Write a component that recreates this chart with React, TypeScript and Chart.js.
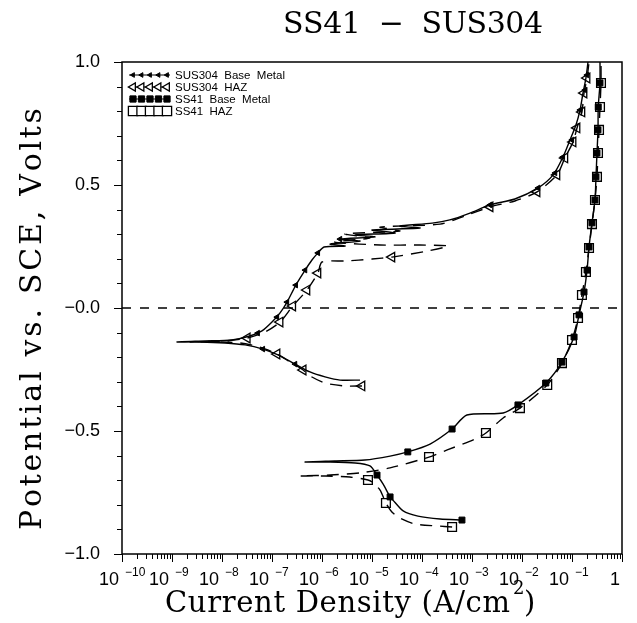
import React, { useEffect, useRef } from "react";
import { Chart, registerables } from "chart.js";

Chart.register(...registerables);

// ---- axis ranges / ticks ----
const X_MIN = 1e-10;
const X_MAX = 1;
const Y_MIN = -1;
const Y_MAX = 1;
const xDecadeExponents = [-10, -9, -8, -7, -6, -5, -4, -3, -2, -1, 0];
const xMinorMultipliers = [2, 3, 4, 5, 6, 7, 8, 9];
const yMajorTicks = [1.0, 0.5, 0, -0.5, -1.0];
const yMajorLabels = ["1.0", "0.5", "\u22120.0", "\u22120.5", "\u22121.0"];
const yMinorTicks = [0.9, 0.8, 0.7, 0.6, 0.4, 0.3, 0.2, 0.1, -0.1, -0.2, -0.3, -0.4, -0.6, -0.7, -0.8, -0.9];

// ---- texts ----
const titleText = "SS41  \u2212  SUS304";
const xTitleMain = "Current Density (A/cm";
const xTitleSup = "2";
const xTitleEnd = ")";
const yTitleText = "Potential vs. SCE, Volts";
const seriesNames = ["SUS304  Base  Metal", "SUS304  HAZ", "SS41  Base  Metal", "SS41  HAZ"];

// ---- reference line at 0 V ----
const zeroLine: [number, number][] = [[1e-10, 0], [1, 0]];

// ---- SUS304 Base Metal (current density A/cm2, potential V) ----
const sus304BaseCurve: [number, number][] = [
  [5.75e-6, -0.293], [2.3e-6, -0.293], [1.15e-6, -0.28], [5.75e-7, -0.26], [2.9e-7, -0.228],
  [1.32e-7, -0.191], [6.6e-8, -0.167], [2.9e-8, -0.15], [1.15e-8, -0.142], [3.6e-9, -0.138],
  [1.26e-9, -0.138], [4.6e-9, -0.134], [1.58e-8, -0.13], [3.6e-8, -0.114], [6.3e-8, -0.093],
  [1.0e-7, -0.057], [1.45e-7, -0.02], [2.0e-7, 0.024], [3.0e-7, 0.093], [4.6e-7, 0.154],
  [6.3e-7, 0.195], [8.3e-7, 0.224], [1.1e-6, 0.248],
  [2.9e-6, 0.252], [1.45e-6, 0.26], [5.75e-6, 0.272], [2.3e-6, 0.28], [1.15e-5, 0.289],
  [4.6e-6, 0.297], [2.9e-5, 0.305], [1.0e-5, 0.317], [9.1e-5, 0.325], [3.6e-5, 0.333],
  [1.6e-4, 0.345], [3.6e-4, 0.358], [9.1e-4, 0.386], [2.3e-3, 0.419], [7.2e-3, 0.443],
  [2.1e-2, 0.488], [4.2e-2, 0.541], [6.6e-2, 0.614], [9.1e-2, 0.683], [0.12, 0.744],
  [0.145, 0.805], [0.166, 0.874], [0.19, 0.935], [0.209, 1.0],
];
const sus304BaseMarks: [number, number][] = [
  [6.6e-8, -0.167], [2.9e-7, -0.228], [5.2e-8, -0.102], [1.26e-7, -0.037], [2.0e-7, 0.024],
  [3.0e-7, 0.093], [4.6e-7, 0.154], [8.3e-7, 0.224], [2.3e-6, 0.28], [2.3e-3, 0.419],
  [2.1e-2, 0.488], [4.6e-2, 0.549], [6.6e-2, 0.614], [0.1, 0.683], [0.145, 0.805],
  [0.182, 0.886], [0.2, 0.947],
];

// ---- SUS304 HAZ ----
const sus304HazCurve: [number, number][] = [
  [6.3e-6, -0.317], [2.9e-6, -0.317], [1.15e-6, -0.305], [5.75e-7, -0.276], [4.2e-7, -0.252],
  [2.3e-7, -0.22], [1.26e-7, -0.187], [5.75e-8, -0.159], [2.3e-8, -0.142], [7.2e-9, -0.138],
  [2.3e-9, -0.138], [1.15e-8, -0.134], [3.2e-8, -0.122], [7.2e-8, -0.098], [1.45e-7, -0.057],
  [2.6e-7, 0.008], [5.0e-7, 0.073], [8.3e-7, 0.142], [1.0e-6, 0.187], [2.9e-6, 0.191],
  [1.0e-5, 0.199], [2.5e-5, 0.207], [1.3e-4, 0.232], [3.3e-4, 0.252], [9.1e-5, 0.256],
  [1.45e-5, 0.256], [1.8e-6, 0.268], [9.1e-6, 0.285], [2.9e-6, 0.301], [3.6e-5, 0.313],
  [1.45e-5, 0.329], [2.3e-4, 0.341], [7.2e-4, 0.374], [2.3e-3, 0.411], [7.2e-3, 0.435],
  [2.0e-2, 0.472], [5.0e-2, 0.541], [7.2e-2, 0.61], [0.105, 0.675], [0.126, 0.732],
  [0.158, 0.797], [0.174, 0.874], [0.2, 0.935], [0.219, 1.0],
];
const sus304HazMarks: [number, number][] = [
  [6.3e-6, -0.317], [4.2e-7, -0.252], [1.26e-7, -0.187], [3.2e-8, -0.122], [1.45e-7, -0.057],
  [2.6e-7, 0.008], [5.0e-7, 0.073], [8.3e-7, 0.142], [2.5e-5, 0.207], [2.3e-3, 0.411],
  [2.0e-2, 0.472], [5.0e-2, 0.541], [7.2e-2, 0.61], [0.105, 0.675], [0.126, 0.732],
  [0.158, 0.797], [0.174, 0.874], [0.2, 0.935],
];

// ---- SS41 Base Metal ----
const ss41BaseCurve: [number, number][] = [
  [6.3e-4, -0.862], [2.3e-4, -0.858], [8.3e-5, -0.846], [4.2e-5, -0.825], [2.6e-5, -0.78],
  [2.3e-5, -0.768], [1.66e-5, -0.715], [1.26e-5, -0.679], [9.1e-6, -0.642], [4.6e-6, -0.63],
  [1.45e-6, -0.626], [4.6e-7, -0.626], [1.8e-6, -0.622], [7.2e-6, -0.618], [2.3e-5, -0.602],
  [5.2e-5, -0.585], [1.45e-4, -0.553], [4.0e-4, -0.492], [7.9e-4, -0.435], [4.2e-3, -0.427],
  [8.3e-3, -0.394], [3.0e-2, -0.305], [6.3e-2, -0.22], [0.11, -0.118], [0.138, -0.028],
  [0.174, 0.065], [0.2, 0.154], [0.219, 0.248], [0.251, 0.346], [0.288, 0.439],
  [0.302, 0.533], [0.316, 0.63], [0.331, 0.724], [0.335, 0.817], [0.363, 0.915], [0.363, 1.0],
];
const ss41BaseMarks: [number, number][] = [
  [6.3e-4, -0.862], [2.3e-5, -0.768], [1.26e-5, -0.679], [5.2e-5, -0.585], [4.0e-4, -0.492],
  [8.3e-3, -0.394], [3.0e-2, -0.305], [6.3e-2, -0.22], [0.11, -0.118], [0.138, -0.028],
  [0.174, 0.065], [0.2, 0.154], [0.219, 0.248], [0.251, 0.346], [0.288, 0.439],
  [0.302, 0.533], [0.316, 0.63], [0.331, 0.724], [0.335, 0.817], [0.363, 0.915],
];

// ---- SS41 HAZ ----
const ss41HazCurve: [number, number][] = [
  [4.0e-4, -0.89], [2.0e-4, -0.886], [7.2e-5, -0.878], [3.6e-5, -0.854], [2.5e-5, -0.829],
  [1.9e-5, -0.793], [1.45e-5, -0.74], [1.0e-5, -0.707], [8.3e-6, -0.699], [3.6e-6, -0.687],
  [1.15e-6, -0.683], [3.6e-7, -0.683], [1.45e-6, -0.679], [6.0e-6, -0.67], [2.3e-5, -0.65],
  [1.38e-4, -0.606], [3.2e-4, -0.577], [1.15e-3, -0.533], [1.9e-3, -0.508], [4.2e-3, -0.447],
  [9.1e-3, -0.407], [3.2e-2, -0.313], [6.3e-2, -0.224], [0.1, -0.13], [0.132, -0.041],
  [0.158, 0.053], [0.19, 0.146], [0.219, 0.244], [0.251, 0.341], [0.288, 0.439],
  [0.316, 0.533], [0.331, 0.63], [0.347, 0.724], [0.363, 0.817], [0.38, 0.915], [0.38, 1.0],
];
const ss41HazMarks: [number, number][] = [
  [4.0e-4, -0.89], [1.9e-5, -0.793], [8.3e-6, -0.699], [1.38e-4, -0.606], [1.9e-3, -0.508],
  [9.1e-3, -0.407], [3.2e-2, -0.313], [6.3e-2, -0.224], [0.1, -0.13], [0.132, -0.041],
  [0.158, 0.053], [0.19, 0.146], [0.219, 0.244], [0.251, 0.341], [0.288, 0.439],
  [0.316, 0.533], [0.331, 0.63], [0.347, 0.724], [0.363, 0.817], [0.38, 0.915],
];

const pts = (a: [number, number][]) => a.map(([x, y]) => ({ x, y }));

const SERIF = '"DejaVu Serif", serif';
const SANS = '"Liberation Sans", Arial, sans-serif';

type MarkerStyle = { style: string; radius: number; rotation: number; fill: string; bw: number };
const markerStyles: MarkerStyle[] = [
  { style: "triangle", radius: 3.2, rotation: 270, fill: "#000", bw: 1 },
  { style: "triangle", radius: 5.5, rotation: 270, fill: "#fff", bw: 1.3 },
  { style: "rect", radius: 4.2, rotation: 0, fill: "#000", bw: 1 },
  { style: "rect", radius: 6.2, rotation: 0, fill: "#fff", bw: 1.3 },
];
const lineDashes: number[][] = [[], [12, 8], [], [12, 8]];

// draw text character by character so that it spans a given width
function drawSpaced(ctx: CanvasRenderingContext2D, text: string, x: number, y: number, target: number) {
  const chars = Array.from(text);
  const widths = chars.map((c) => ctx.measureText(c).width);
  const natural = widths.reduce((s, w) => s + w, 0);
  const extra = chars.length > 1 ? (target - natural) / (chars.length - 1) : 0;
  let cx = x;
  chars.forEach((c, i) => {
    ctx.fillText(c, cx, y);
    cx += widths[i] + extra;
  });
}

function drawMarker(ctx: CanvasRenderingContext2D, ms: MarkerStyle, x: number, y: number) {
  const r = ms.style === "rect" ? ms.radius * 0.75 : ms.radius * 0.85;
  ctx.beginPath();
  if (ms.style === "rect") {
    const s = r * Math.SQRT1_2 * 1.4;
    ctx.rect(x - s, y - s, 2 * s, 2 * s);
  } else {
    ctx.moveTo(x - r, y);
    ctx.lineTo(x + r * 0.5, y - r * 0.866);
    ctx.lineTo(x + r * 0.5, y + r * 0.866);
    ctx.closePath();
  }
  ctx.fill();
  ctx.stroke();
}

const decorPlugin = {
  id: "decor",
  afterDraw(chart: any) {
    const { ctx, chartArea: a, scales } = chart;
    const xs = scales.x;
    const ys = scales.y;
    ctx.save();
    ctx.strokeStyle = "#000";
    ctx.fillStyle = "#000";
    ctx.setLineDash([]);
    ctx.lineWidth = 1.5;
    ctx.strokeRect(a.left, a.top, a.right - a.left, a.bottom - a.top);
    ctx.lineWidth = 1;
    const seg = (x1: number, y1: number, x2: number, y2: number) => {
      ctx.beginPath();
      ctx.moveTo(x1, y1);
      ctx.lineTo(x2, y2);
      ctx.stroke();
    };
    xDecadeExponents.forEach((e) => {
      const px = Math.round(xs.getPixelForValue(Math.pow(10, e))) + 0.5;
      seg(px, a.bottom, px, a.bottom + 8);
      if (e < 0) {
        xMinorMultipliers.forEach((m) => {
          const mx = Math.round(xs.getPixelForValue(m * Math.pow(10, e))) + 0.5;
          seg(mx, a.bottom, mx, a.bottom + 5);
        });
      }
    });
    yMajorTicks.forEach((v) => {
      const py = Math.round(ys.getPixelForValue(v)) + 0.5;
      seg(a.left - 8, py, a.left, py);
    });
    yMinorTicks.forEach((v) => {
      const py = Math.round(ys.getPixelForValue(v)) + 0.5;
      seg(a.left - 5, py, a.left, py);
    });
    // y tick labels
    ctx.font = `18px ${SANS}`;
    ctx.textAlign = "right";
    ctx.textBaseline = "middle";
    yMajorTicks.forEach((v, i) => {
      ctx.fillText(yMajorLabels[i], 100, ys.getPixelForValue(v));
    });
    // x tick labels
    xDecadeExponents.forEach((e) => {
      const px = xs.getPixelForValue(Math.pow(10, e));
      ctx.textBaseline = "alphabetic";
      if (e === 0) {
        ctx.font = `18px ${SANS}`;
        ctx.textAlign = "right";
        ctx.fillText("1", px - 2, 585);
      } else {
        ctx.font = `18px ${SANS}`;
        ctx.textAlign = "right";
        ctx.fillText("10", px - 3, 585);
        ctx.font = `12px ${SANS}`;
        ctx.textAlign = "left";
        ctx.fillText("\u2212" + String(-e), px + 3, 576);
      }
    });
    // title
    ctx.font = `30px ${SERIF}`;
    ctx.textAlign = "left";
    ctx.textBaseline = "alphabetic";
    drawSpaced(ctx, titleText, 283, 33, 260);
    // x axis title
    ctx.font = `29px ${SERIF}`;
    const wMain = 345;
    drawSpaced(ctx, xTitleMain, 165, 612, wMain);
    ctx.font = `18px ${SERIF}`;
    ctx.fillText(xTitleSup, 165 + wMain + 3, 594);
    ctx.font = `29px ${SERIF}`;
    ctx.fillText(xTitleEnd, 165 + wMain + 14, 612);
    // y axis title
    ctx.save();
    ctx.translate(41, 530);
    ctx.rotate(-Math.PI / 2);
    ctx.font = `30px ${SERIF}`;
    ctx.textAlign = "left";
    ctx.textBaseline = "alphabetic";
    drawSpaced(ctx, yTitleText, 0, 0, 422);
    ctx.restore();
    // legend
    const rows = [75, 87, 99, 111];
    rows.forEach((ry, i) => {
      ctx.setLineDash([]);
      ctx.lineWidth = 1.2;
      ctx.strokeStyle = "#000";
      seg(129, ry, 170, ry);
      const ms = markerStyles[i];
      for (let k = 0; k < 5; k++) {
        const mx = 133 + k * 8.5;
        ctx.save();
        ctx.fillStyle = ms.fill;
        ctx.strokeStyle = "#000";
        ctx.lineWidth = ms.bw;
        drawMarker(ctx, ms, mx, ry);
        ctx.restore();
      }
      ctx.fillStyle = "#000";
      ctx.font = `11.5px ${SANS}`;
      ctx.textAlign = "left";
      ctx.textBaseline = "middle";
      ctx.fillText(seriesNames[i], 175, ry + 0.5);
    });
    ctx.restore();
  },
};

export default function App() {
  const ref = useRef<HTMLCanvasElement | null>(null);
  useEffect(() => {
    if (!ref.current) return;
    const curves = [sus304BaseCurve, sus304HazCurve, ss41BaseCurve, ss41HazCurve];
    const marks = [sus304BaseMarks, sus304HazMarks, ss41BaseMarks, ss41HazMarks];
    const datasets: any[] = [
      {
        label: "zero",
        data: pts(zeroLine),
        showLine: true,
        borderColor: "#000",
        borderWidth: 1.3,
        borderDash: [9, 9],
        pointRadius: 0,
      },
    ];
    curves.forEach((c, i) => {
      datasets.push({
        label: seriesNames[i] + " line",
        data: pts(c),
        showLine: true,
        borderColor: "#000",
        borderWidth: 1.4,
        borderDash: lineDashes[i],
        pointRadius: 0,
        tension: 0.25,
      });
    });
    marks.forEach((m, i) => {
      const ms = markerStyles[i];
      datasets.push({
        label: seriesNames[i],
        data: pts(m),
        showLine: false,
        pointStyle: ms.style,
        pointRadius: ms.radius,
        pointRotation: ms.rotation,
        pointBackgroundColor: ms.fill,
        pointBorderColor: "#000",
        pointBorderWidth: ms.bw,
      });
    });
    const chart = new Chart(ref.current, {
      type: "scatter",
      data: { datasets },
      options: {
        animation: false,
        responsive: false,
        devicePixelRatio: 1,
        layout: { padding: { left: 122, top: 62, right: 15, bottom: 69 } },
        scales: {
          x: { type: "logarithmic", min: X_MIN, max: X_MAX, display: false },
          y: { type: "linear", min: Y_MIN, max: Y_MAX, display: false },
        },
        plugins: { legend: { display: false }, tooltip: { enabled: false } },
        events: [],
      },
      plugins: [decorPlugin],
    } as any);
    return () => chart.destroy();
  }, []);
  return (
    <div style={{ position: "fixed", left: 0, top: 0, width: 637, height: 623, background: "#fff" }}>
      <canvas ref={ref} width={637} height={623} style={{ width: 637, height: 623 }} />
    </div>
  );
}
